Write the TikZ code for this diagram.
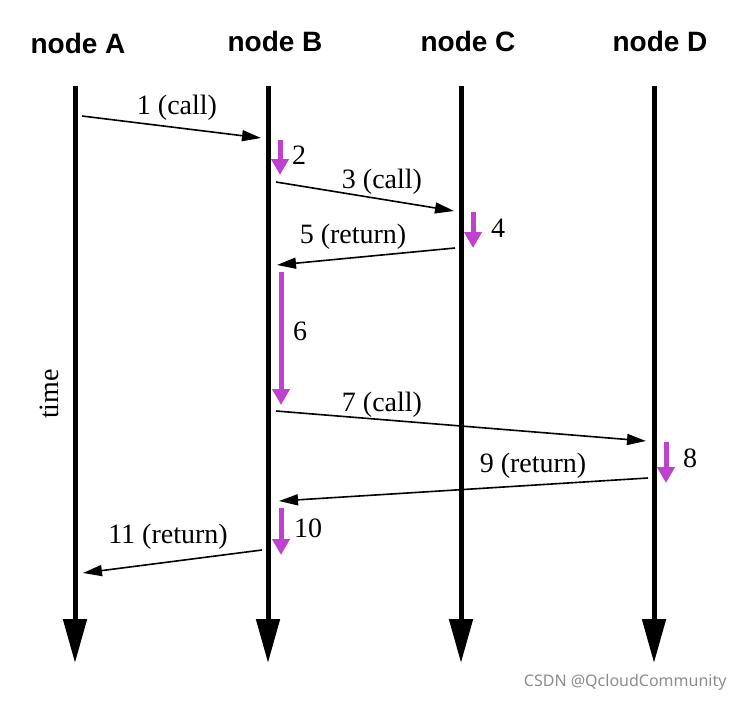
\documentclass[tikz,border=0pt]{standalone}
\usepackage{fontspec}
\setmainfont{Liberation Serif}
\setsansfont{Liberation Sans}
\newfontfamily\wmfont{Noto Sans}
\usetikzlibrary{arrows.meta}
\definecolor{busycol}{RGB}{192,64,208}

\begin{document}
\begin{tikzpicture}[x=1pt,y=-1pt,
    life/.style={line width=5pt,-{Triangle[length=44pt,width=23pt]}},
    msg/.style={line width=1.6pt,-{Triangle[length=19pt,width=11pt]}},
    busy/.style={draw=busycol,line width=5pt,-{Triangle[length=16pt,width=17pt]},busycol},
    lbl/.style={font=\fontsize{28}{30}\selectfont},
    head/.style={font=\fontsize{28}{30}\selectfont\sffamily\bfseries,anchor=base}]
      \useasboundingbox (0,0) rectangle (744,702);
      % lifelines
      \foreach \n/\x/\hx/\hy in {A/75/78/53,B/268/275/51,C/461/468/51,D/654/660/51}{
        \node[head] (h\n) at (\hx,\hy) {node \n};
        \coordinate (top\n) at (\x,86);
        \coordinate (bot\n) at (\x,663);
        \draw[life] (top\n) -- (bot\n);
      }
      \node[lbl,rotate=90] (time) at (49,394) {time};
      % messages
      \coordinate (s1) at (82,116);  \coordinate (e1) at (261,138);
      \coordinate (s3) at (276,182); \coordinate (e3) at (454,211);
      \coordinate (s5) at (455,248); \coordinate (e5) at (277,265);
      \coordinate (s7) at (276,411); \coordinate (e7) at (646,441);
      \coordinate (s9) at (648,478); \coordinate (e9) at (279,501);
      \coordinate (s11) at (262,550); \coordinate (e11) at (83,573);
      \foreach \m in {1,3,5,7,9,11}
        \draw[msg] (s\m) -- (e\m);
      \node[lbl] (l1) at (177,108) {1 (call)};
      \node[lbl] (l3) at (382,182) {3 (call)};
      \node[lbl] (l5) at (353,237) {5 (return)};
      \node[lbl] (l7) at (382,405) {7 (call)};
      \node[lbl] (l9) at (533,466) {9 (return)};
      \node[lbl] (l11) at (168,537) {11 (return)};
      % local work
      \coordinate (p2) at (280,140);  \coordinate (q2) at (280,175);
      \coordinate (p4) at (473,212);  \coordinate (q4) at (473,248);
      \coordinate (p6) at (281,272);  \coordinate (q6) at (281,405);
      \coordinate (p8) at (666,442);  \coordinate (q8) at (666,483);
      \coordinate (p10) at (281,508); \coordinate (q10) at (281,555);
      \foreach \m in {2,4,6,8,10}
        \draw[busy] (p\m) -- (q\m);
      \node[lbl] (l2) at (299,155) {2};
      \node[lbl] (l4) at (498,228) {4};
      \node[lbl] (l6) at (300,331) {6};
      \node[lbl] (l8) at (690,458) {8};
      \node[lbl] (l10) at (308,528) {10};
      \node[font=\wmfont\fontsize{16}{18}\selectfont,text=black!45,anchor=east] (wm) at (730,682) {CSDN @QcloudCommunity};
    \end{tikzpicture}
\end{document}
